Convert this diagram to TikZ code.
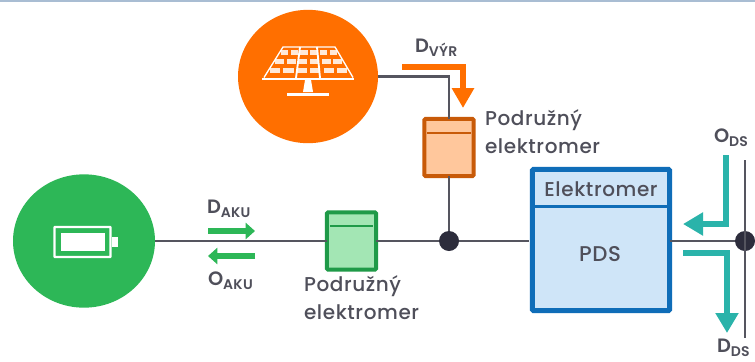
\documentclass[tikz,border=0pt]{standalone}
\usepackage{fontspec}
\setmainfont{Poppins}
\usetikzlibrary{arrows.meta,shapes.geometric,calc}
\definecolor{wire}{HTML}{55555F}
\definecolor{dark}{HTML}{2D2D3C}
\definecolor{txt}{HTML}{4F4F5A}
\definecolor{orng}{HTML}{FF6F00}
\definecolor{orngD}{HTML}{C85A08}
\definecolor{orngL}{HTML}{FFC79C}
\definecolor{grn}{HTML}{2DB757}
\definecolor{grnD}{HTML}{1F9A48}
\definecolor{grnL}{HTML}{A3E6B4}
\definecolor{blu}{HTML}{0F6DB8}
\definecolor{bluL}{HTML}{CFE5F8}
\definecolor{teal}{HTML}{2AB3AA}
\definecolor{topline}{HTML}{A9BDD3}
\newfontface\medium[LetterSpace=3]{Poppins Medium}
\newfontface\semibold[LetterSpace=2]{Poppins SemiBold}
\newcommand\lab[2]{#1\raisebox{-0.35ex}{\fontsize{10.5pt}{11pt}\selectfont #2}}
\tikzset{
  x=0.75pt,y=-0.75pt,
  wireline/.style={draw=wire,line width=2pt},
  circ/.style={ellipse,inner sep=0pt,outer sep=0pt},
  meter/.style={rectangle,rounded corners=1pt,line width=3pt,inner sep=0pt,outer sep=0pt},
  junction/.style={circle,fill=dark,inner sep=0pt,outer sep=0pt,minimum size=15pt},
  txtnode/.style={inner sep=0pt,outer sep=0pt,text=txt,font=\fontsize{15pt}{21pt}\selectfont\medium},
  flabel/.style={txtnode,font=\fontsize{14.5pt}{17pt}\selectfont\semibold},
  flowO/.style={draw=orng,line width=4.5pt,-{Triangle[length=15pt,width=16pt]}},
  flowT/.style={draw=teal,line width=4.8pt,-{Triangle[length=15pt,width=16.5pt]}},
  flowG/.style={draw=grn,line width=5pt,-{Triangle[length=7pt,width=12pt]}}
}
\begin{document}
\begin{tikzpicture}
\useasboundingbox (0,0) rectangle (755,361);
\fill[white] (0,0) rectangle (755,361);
\fill[topline] (0,0) rectangle (755,1.5);
% nodes
\node[circ,fill=orng,minimum width=105pt,minimum height=100pt] (pv) at (308,76.5) {};
\node[circ,fill=grn,minimum width=106.5pt,minimum height=100pt] (batt) at (84,241) {};
\node[meter,draw=orngD,fill=orngL,minimum width=37pt,minimum height=43pt] (om) at (449,147.5) {};
\node[meter,draw=grnD,fill=grnL,minimum width=37pt,minimum height=43pt] (gm) at (351.5,241) {};
\node[meter,draw=blu,fill=bluL,line width=3.8pt,minimum width=103pt,minimum height=106pt] (pds) at (601,240) {};
\node[junction] (j1) at (449,241) {};
\node[junction] (j2) at (745,241) {};
\coordinate (gt) at (745,160);
\coordinate (gb) at (745,338);
% wires
\draw[wireline] (pv.east) -| (om.north);
\draw[wireline] (om.south) -- (j1);
\draw[wireline,line width=1.6pt] (batt.east) -- (gm.west);
\draw[wireline,line width=1.6pt] (gm.east) -- (j1);
\draw[wireline,line width=1.6pt,shorten >=2.6pt] (j1) -- (j1 -| pds.west);
\draw[wireline] (j2 -| pds.east) -- (j2);
\draw[wireline] (gt) -- (gb);
% meter header lines
\draw[orngD,line width=1.5pt] ($(om.north west)+(3,14)$) -- ($(om.north east)+(-3,14)$);
\draw[grnD,line width=1.5pt] ($(gm.north west)+(3,14)$) -- ($(gm.north east)+(-3,14)$);
\draw[blu,line width=1.8pt] ($(pds.north west)+(3,37)$) -- ($(pds.north east)+(-3,37)$);
% battery icon
\fill[white] (112,237) rectangle (118,247);
\node[rectangle,draw=white,fill=grn,line width=1.8pt,inner sep=0pt,rounded corners=.5pt,minimum width=42pt,minimum height=22.5pt] (bo) at (82.5,242) {};
\node[rectangle,fill=white,inner sep=0pt,minimum width=33pt,minimum height=13.5pt] (bi) at (82.5,242) {};
% solar icon
\begin{scope}
\fill[white] (262,77.5) rectangle (354,80);
\draw[white,line width=1pt,line join=round] (264,77.5) -- (283,47) -- (335,47) -- (353,77.5);
\foreach \a/\b in {300/296,317/320}{\draw[white,line width=1.4pt] (\a,47) -- (\b,78);}
\foreach \r in {0,1,2}{
  \pgfmathsetmacro\yy{52.5+\r*9}
  \pgfmathsetmacro\ss{(\yy-47)/30.5}
  \pgfmathsetmacro\xa{283-19*\ss}
  \pgfmathsetmacro\xb{335+18*\ss}
  \pgfmathsetmacro\ws{(\xb-\xa)}
  \foreach \c in {0,1,2}{
    \foreach \k in {0,1}{
      \pgfmathsetmacro\cx{\xa+\ws*(\c+(\k+0.5)/2)/3}
      \fill[white,opacity=.85] (\cx-\ws/16,\yy-2.6) rectangle (\cx+\ws/16,\yy+2.6);
    }
  }
}
\fill[white] (305,80) -- (311,80) -- (313,92) -- (303,92) -- cycle;
\fill[white] (287,92.5) rectangle (329,95.5);
\end{scope}
% flow arrows
\coordinate (oa) at (402,67);
\coordinate (ob) at (463,67);
\coordinate (oc) at (463,108);
\draw[flowO] (oa) -- (ob) -- (oc);
\coordinate (ta) at (726,155);
\coordinate (tb) at (726,224);
\coordinate (tc) at (683,224);
\draw[flowT] (ta) -- (tb) -- (tc);
\coordinate (da) at (683,253);
\coordinate (db) at (727,253);
\coordinate (dc) at (727,333);
\draw[flowT] (da) -- (db) -- (dc);
\coordinate (ga) at (208,231);
\coordinate (gb2) at (255,231);
\draw[flowG] (ga) -- (gb2);
\coordinate (ha) at (255,256);
\coordinate (hb) at (208,256);
\draw[flowG] (ha) -- (hb);
% labels
\node[flabel,anchor=west] (l1) at (415,48) {\lab{D}{VÝR}};
\node[flabel,anchor=west] (l2) at (207,209) {\lab{D}{AKU}};
\node[flabel,anchor=west] (l3) at (208,281) {\lab{O}{AKU}};
\node[flabel,anchor=west] (l4) at (714,138) {\lab{O}{DS}};
\node[flabel,anchor=west] (l5) at (717,347.5) {\lab{D}{DS}};
\node[txtnode,align=left,anchor=north west] (l6) at (485,110) {Podružný\\elektromer};
\node[txtnode,align=left,anchor=north west] (l7) at (304,276) {Podružný\\elektromer};
\node[txtnode] (l8) at (601,189) {Elektromer};
\node[txtnode,font=\fontsize{16pt}{21pt}\selectfont\medium] (l9) at (600,254) {PDS};
\end{tikzpicture}
\end{document}
